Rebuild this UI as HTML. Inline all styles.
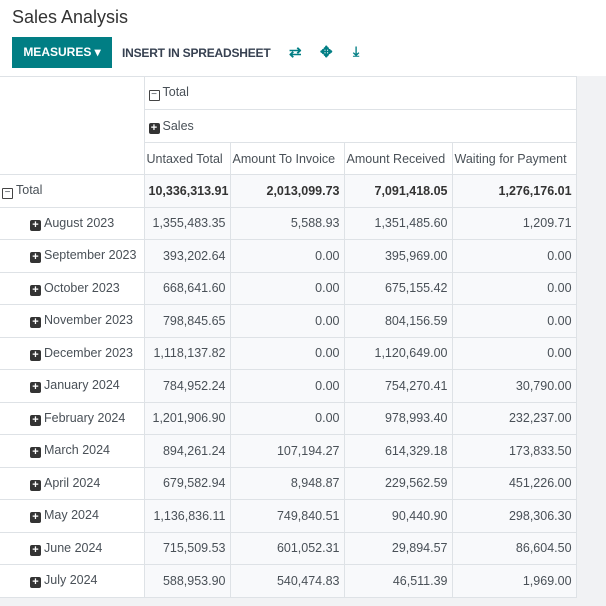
<!DOCTYPE html>
<html><head><meta charset="utf-8"><style>
body{margin:0;width:606px;height:606px;overflow:hidden;background:#fff;font-family:"Liberation Sans",sans-serif;color:#495057;position:relative}
.title{position:absolute;left:12px;top:7px;font-size:18px;color:#333}
.btn{position:absolute;left:12px;top:37px;width:100px;height:31px;background:#017e84;color:#fff;font-size:12px;font-weight:bold;line-height:31px;text-align:center}
.tb{position:absolute;top:46px;font-size:12px;font-weight:bold;color:#374151;letter-spacing:-0.2px}
.gray{position:absolute;left:0;top:76px;width:606px;height:530px;background:#f1f2f4}
table{position:absolute;left:0;top:76px;width:576px;border-collapse:collapse;font-size:12.5px;background:#fff;table-layout:fixed}
td{border:1px solid #dee2e6;padding:0 4px;white-space:nowrap;vertical-align:middle;line-height:14px;overflow:hidden}
.num{text-align:right;background:#f8f9fb}
.rh{text-align:left;padding-left:30px}
.sq{display:inline-block;width:11px;height:11px;background:#333;color:#fff;font-size:11px;line-height:11px;text-align:center;border-radius:2px;margin-right:3px;vertical-align:-1px;font-weight:bold}
.sqm{display:inline-block;width:9px;height:9px;border:1px solid #444;border-radius:1px;font-size:10px;line-height:8px;text-align:center;margin-right:3px;vertical-align:-1px}
</style></head><body>
<div class="gray"></div>
<div class="title">Sales Analysis</div>
<div class="btn">MEASURES ▾</div>
<div class="tb" style="left:122px">INSERT IN SPREADSHEET</div>
<div class="tb" style="left:289px;top:43px;font-size:15px;color:#017e84">⇄</div>
<div class="tb" style="left:320px;top:43px;font-size:15px;color:#017e84">✥</div>
<div class="tb" style="left:353px;top:43px;font-size:14px;color:#017e84">⤓</div>
<table>
<colgroup><col style="width:144px"><col style="width:86px"><col style="width:114px"><col style="width:108px"><col style="width:124px"></colgroup>
<tr><td style="border-left:none;background:#fff" rowspan="3"></td><td colspan="4" style="height:32px"><span class="sqm">−</span>Total</td></tr>
<tr><td colspan="4" style="height:32px"><span class="sq">+</span>Sales</td></tr>
<tr><td style="height:31px;padding:0 2px">Untaxed Total</td><td style="padding:0 2px">Amount To Invoice</td><td style="padding:0 2px">Amount Received</td><td style="padding:0 2px">Waiting for Payment</td></tr>
<tbody id="rows"></tbody>
</table>
<script>
const labels=["Total","August 2023","September 2023","October 2023","November 2023","December 2023","January 2024","February 2024","March 2024","April 2024","May 2024","June 2024","July 2024"];
const untaxed=["10,336,313.91","1,355,483.35","393,202.64","668,641.60","798,845.65","1,118,137.82","784,952.24","1,201,906.90","894,261.24","679,582.94","1,136,836.11","715,509.53","588,953.90"];
const toInvoice=["2,013,099.73","5,588.93","0.00","0.00","0.00","0.00","0.00","0.00","107,194.27","8,948.87","749,840.51","601,052.31","540,474.83"];
const received=["7,091,418.05","1,351,485.60","395,969.00","675,155.42","804,156.59","1,120,649.00","754,270.41","978,993.40","614,329.18","229,562.59","90,440.90","29,894.57","46,511.39"];
const waiting=["1,276,176.01","1,209.71","0.00","0.00","0.00","0.00","30,790.00","232,237.00","173,833.50","451,226.00","298,306.30","86,604.50","1,969.00"];
const tb=document.getElementById('rows');
labels.forEach((l,i)=>{
  const tr=document.createElement('tr');
  
  
  const h=document.createElement('td');
  
  
  h.style.borderLeft='none';
  h.style.height='31.5px';
  if(i===0){h.style.paddingLeft='2px';h.innerHTML='<span class="sqm">−</span>'+l;}
  else{h.className='rh';h.innerHTML='<span class="sq">+</span>'+l;}
  tr.appendChild(h);
  [untaxed,toInvoice,received,waiting].forEach(a=>{
    const c=document.createElement('td');
    
    
    c.className='num';
    if(i===0){c.style.fontWeight='bold';c.style.color='#333';}
    c.textContent=a[i];
    tr.appendChild(c);
  });
  tb.appendChild(tr);
});
</script>
</body></html>
